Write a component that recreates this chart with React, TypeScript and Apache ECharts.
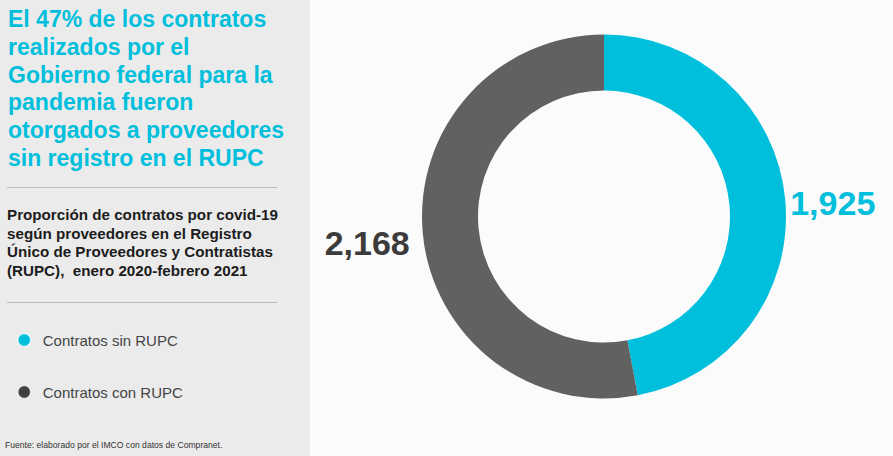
import React, { useEffect, useRef } from "react";
import * as echarts from "echarts";

const categories = ["Contratos sin RUPC", "Contratos con RUPC"];
const values = [1925, 2168];
const titleLines = [
  "El 47% de los contratos",
  "realizados por el",
  "Gobierno federal para la",
  "pandemia fueron",
  "otorgados a proveedores",
  "sin registro en el RUPC",
];
const subtitleLines = [
  "Proporción de contratos por covid-19",
  "según proveedores en el Registro",
  "Único de Proveedores y Contratistas",
  "(RUPC),  enero 2020-febrero 2021",
];
const sourceText = "Fuente: elaborado por el IMCO con datos de Compranet.";

const CYAN = "#00bfdc";
const SLICE_GRAY = "#616161";
const DARK = "#3b3b3b";
const FONT = "'Liberation Sans', Arial, Helvetica, sans-serif";

export default function App() {
  const ref = useRef<HTMLDivElement>(null);
  useEffect(() => {
    if (!ref.current) return;
    const chart = echarts.init(ref.current, null, { renderer: "svg" });
    const sliceColors = [CYAN, SLICE_GRAY];
    const labelColors = [CYAN, DARK];
    const legendColors = [CYAN, "#404040"];
    chart.setOption({
      animation: false,
      backgroundColor: "#fbfbfb",
      textStyle: { fontFamily: FONT },
      graphic: [
        {
          type: "rect",
          z: -10,
          shape: { x: 0, y: 0, width: 310, height: 456 },
          style: { fill: "#ebebeb" },
        },
        {
          type: "line",
          shape: { x1: 7, y1: 187.5, x2: 277, y2: 187.5 },
          style: { stroke: "#bdbdbd", lineWidth: 1 },
        },
        {
          type: "line",
          shape: { x1: 7, y1: 302.5, x2: 277, y2: 302.5 },
          style: { stroke: "#bdbdbd", lineWidth: 1 },
        },
      ],
      title: [
        {
          text: titleLines.join("\n"),
          left: 8,
          top: 5,
          padding: 0,
          textStyle: {
            fontFamily: FONT,
            fontSize: 23,
            fontWeight: "bold",
            lineHeight: 27.8,
            color: CYAN,
          },
        },
        {
          text: subtitleLines.join("\n"),
          left: 7,
          top: 205,
          padding: 0,
          textStyle: {
            fontFamily: FONT,
            fontSize: 15.2,
            fontWeight: "bold",
            lineHeight: 18.7,
            color: "#1c1c1c",
          },
        },
        {
          text: sourceText,
          left: 5,
          top: 440,
          padding: 0,
          textStyle: {
            fontFamily: FONT,
            fontSize: 8.6,
            fontWeight: "normal",
            lineHeight: 10,
            color: "#333",
          },
        },
      ],
      legend: {
        orient: "vertical",
        left: 17,
        top: 332,
        padding: 0,
        itemGap: 36,
        itemWidth: 13,
        itemHeight: 13,
        icon: "circle",
        selectedMode: false,
        data: categories.map((name, i) => ({
          name,
          itemStyle: {
            color: legendColors[i],
            borderColor: "rgba(255,255,255,0.7)",
            borderWidth: 1.5,
          },
        })),
        textStyle: {
          fontFamily: FONT,
          fontSize: 15,
          lineHeight: 16,
          color: "#454545",
          padding: [0, 0, 0, 7],
        },
      },
      series: [
        {
          type: "pie",
          center: [604, 216.5],
          radius: [126, 182],
          startAngle: 90,
          clockwise: true,
          avoidLabelOverlap: false,
          silent: true,
          data: categories.map((name, i) => ({
            name,
            value: values[i],
            itemStyle: { color: sliceColors[i] },
            label: { color: labelColors[i] },
          })),
          label: {
            show: true,
            position: "outside",
            formatter: (p: any) => p.value.toLocaleString("en-US"),
            fontFamily: FONT,
            fontSize: 34,
            fontWeight: "bold",
            distanceToLabelLine: 5,
          },
          labelLine: { show: false, length: 0, length2: 0 },
          labelLayout: (p: any) =>
            p.dataIndex === 0 ? { dy: 3 } : { dy: 10, dx: -8 },
        },
      ],
    });
    return () => chart.dispose();
  }, []);
  return (
    <div
      ref={ref}
      style={{ position: "fixed", left: 0, top: 0, width: 893, height: 456 }}
    />
  );
}
